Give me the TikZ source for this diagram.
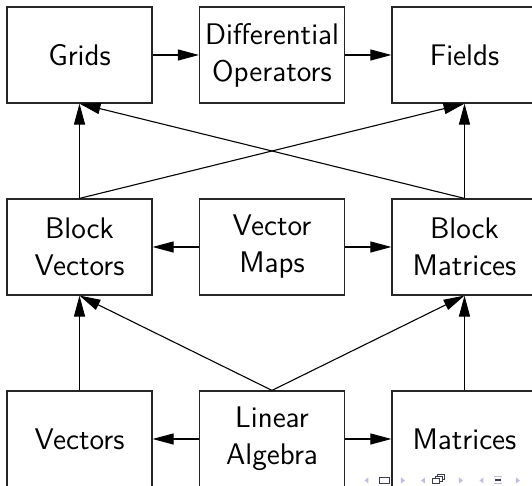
\documentclass[tikz,border=0pt]{standalone}
\usetikzlibrary{arrows.meta}
\definecolor{navlight}{RGB}{190,190,222}
\definecolor{navdark}{RGB}{60,60,80}
\begin{document}
\begin{tikzpicture}[x=0.5pt,y=-0.5pt,
  box/.style={draw=black!85,line width=0.6pt,rectangle,minimum width=72.5pt,minimum height=48pt,
    align=center,inner sep=0pt,font=\sffamily\fontsize{14.9}{18.5}\selectfont},
  link/.style={line width=0.55pt,-{Triangle[length=10.5pt,width=5.5pt]}},
  navtri/.style={fill=navlight,draw=none}]
\clip (0,0) rectangle (532,486);
% top row
\node[box] (grids) at (79.5,55) {Grids};
\node[box] (diffop) at (272,55) {Differential\\Operators};
\node[box] (fields) at (464.5,55) {Fields};
% middle row
\node[box] (bvec) at (79.5,247) {Block\\Vectors};
\node[box] (vmaps) at (272,247) {Vector\\Maps};
\node[box] (bmat) at (464.5,247) {Block\\Matrices};
% bottom row
\node[box] (vec) at (79.5,439) {Vectors};
\node[box] (linalg) at (272,439) {Linear\\Algebra};
\node[box] (mat) at (464.5,439) {Matrices};
% horizontal links
\draw[link] (grids) -- (diffop);
\draw[link] (diffop) -- (fields);
\draw[link] (vmaps) -- (bvec);
\draw[link] (vmaps) -- (bmat);
\draw[link] (linalg) -- (vec);
\draw[link] (linalg) -- (mat);
% upward links
\draw[link] (bvec.north) -- (grids.south);
\draw[link] (bvec.north) -- (fields.south);
\draw[link] (bmat.north) -- (grids.south);
\draw[link] (bmat.north) -- (fields.south);
\draw[link] (vec.north) -- (bvec.south);
\draw[link] (linalg.north) -- (bvec.south);
\draw[link] (linalg.north) -- (bmat.south);
\draw[link] (mat.north) -- (bmat.south);
% navigation symbols
\fill[navtri] (364.5,480.5) -- (368.5,477.5) -- (368.5,483.5) -- cycle;
\draw[navdark,line width=0.5pt] (380,477.5) rectangle (389.5,484);
\fill[navtri] (405,480.5) -- (401,477.5) -- (401,483.5) -- cycle;
\fill[navtri] (421,480.5) -- (425,477.5) -- (425,483.5) -- cycle;
\draw[navdark,line width=0.5pt,fill=white] (438,474.5) rectangle (445,480);
\draw[navdark,line width=0.5pt,fill=white] (435.5,476.5) rectangle (442.5,482);
\draw[navdark,line width=0.5pt,fill=white] (433,478.5) rectangle (440,484);
\fill[navtri] (463,480.5) -- (459,477.5) -- (459,483.5) -- cycle;
\fill[navtri] (479.5,480.5) -- (483.5,477.5) -- (483.5,483.5) -- cycle;
\draw[navlight,line width=0.5pt] (494,476.5) -- (502,476.5) (494,484) -- (502,484);
\draw[navdark,line width=0.8pt] (495,480.3) -- (501,480.3);
\fill[navtri] (520,480.5) -- (516,477.5) -- (516,483.5) -- cycle;
\end{tikzpicture}
\end{document}
